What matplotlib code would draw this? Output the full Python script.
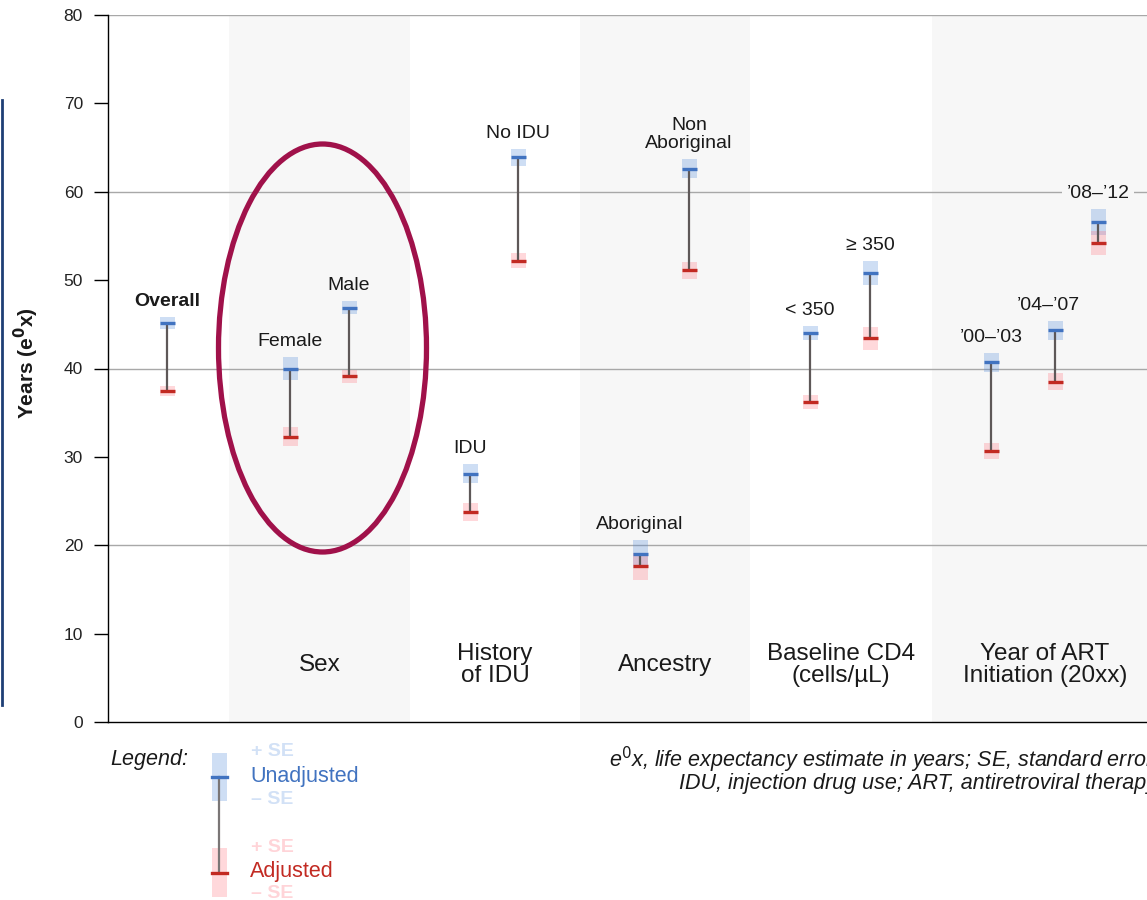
import matplotlib
matplotlib.use("Agg")
import matplotlib.pyplot as plt
from matplotlib.patches import Ellipse, Rectangle
from matplotlib.lines import Line2D

plt.rcParams['font.family'] = ['Liberation Sans', 'DejaVu Sans']

# ---------------- data ----------------
labels = ["Overall", "Female", "Male", "IDU", "No IDU", "Aboriginal", "Non\nAboriginal",
          "< 350", "≥ 350", "’00–’03", "’04–’07", "’08–’12"]
unadjusted = [45.15, 40.0, 46.9, 28.1, 63.9, 19.0, 62.6, 44.0, 50.8, 40.7, 44.3, 56.6]
unadjusted_se = [0.7, 1.35, 0.75, 1.05, 0.95, 1.6, 1.1, 0.8, 1.35, 1.05, 1.05, 1.45]
adjusted = [37.45, 32.3, 39.1, 23.8, 52.2, 17.6, 51.1, 36.2, 43.4, 30.7, 38.5, 54.2]
adjusted_se = [0.6, 1.1, 0.7, 1.0, 0.85, 1.5, 1.0, 0.75, 1.3, 0.9, 0.95, 1.4]
group_names = ["Sex", "History\nof IDU", "Ancestry", "Baseline CD4\n(cells/µL)",
               "Year of ART\nInitiation (20xx)"]
yticks = [0, 10, 20, 30, 40, 50, 60, 70, 80]

# ---------------- layout (pixel-like horizontal units) ----------------
x_pos = [167, 290, 349, 470, 518, 640, 689, 810, 870, 991, 1055, 1098]
group_spans = [(229, 410), (410, 580), (580, 750), (750, 932), (932, 1158)]
group_shaded = [True, False, True, False, True]
label_dx = [0, 0, 0, 0, 0, 0, 0, 0, 0, 0, -7, 0]

W, H = 1147, 900
fig = plt.figure(figsize=(W / 100, H / 100), dpi=100)
ax = fig.add_axes([108 / W, (H - 722) / H, (W - 108) / W, (722 - 15) / H])
ax.set_xlim(108, 1147)
ax.set_ylim(0, 80)

BLUE = '#4173c0'
RED = '#c22a22'
BLUE_BOX = (0.29, 0.52, 0.85, 0.27)
RED_BOX = (1.0, 0.45, 0.5, 0.28)
CONN = '#5e5858'
BAND = '#f7f7f7'

# shaded bands
for (a, b), s in zip(group_spans, group_shaded):
    if s:
        ax.axvspan(a, b, color=BAND, zorder=0.1, lw=0)

# gridlines
for g in [20, 40, 60, 80]:
    ax.axhline(g, color='#a8a8a8', lw=1.0, zorder=0.3)

# spines / ticks
for s in ['top', 'right']:
    ax.spines[s].set_visible(False)
ax.spines['left'].set_color('black')
ax.spines['bottom'].set_color('black')
ax.spines['left'].set_linewidth(1.0)
ax.spines['bottom'].set_linewidth(1.0)
ax.set_yticks(yticks)
ax.set_yticklabels([str(t) for t in yticks])
ax.tick_params(axis='y', direction='out', length=10, width=1, labelsize=12.5,
               pad=8, colors='black', labelcolor='#222222')
ax.set_xticks([])

bw = 15
# boxes
ax.bar(x_pos, [2 * s for s in unadjusted_se], width=bw,
       bottom=[v - s for v, s in zip(unadjusted, unadjusted_se)],
       color=BLUE_BOX, lw=0, zorder=2)
ax.bar(x_pos, [2 * s for s in adjusted_se], width=bw,
       bottom=[v - s for v, s in zip(adjusted, adjusted_se)],
       color=RED_BOX, lw=0, zorder=2)
# connectors
ax.vlines(x_pos, adjusted, unadjusted, color=CONN, lw=1.6, zorder=3)
# value lines
ax.hlines(unadjusted, [x - bw / 2 for x in x_pos], [x + bw / 2 for x in x_pos],
          color=BLUE, lw=2.4, zorder=4)
ax.hlines(adjusted, [x - bw / 2 for x in x_pos], [x + bw / 2 for x in x_pos],
          color=RED, lw=2.4, zorder=4)

# point labels
for i, (x, v, s, lab) in enumerate(zip(x_pos, unadjusted, unadjusted_se, labels)):
    kw = dict(ha='center', va='bottom', fontsize=14, color='#1a1a1a', zorder=5,
              linespacing=1.05)
    if lab == "Overall":
        kw['fontweight'] = 'bold'
    if i == len(labels) - 1:
        kw['bbox'] = dict(boxstyle='square,pad=0.25', fc=BAND, ec='none')
    ax.annotate(lab, (x, v + s), xytext=(label_dx[i] * 0.72, 5),
                textcoords='offset points', **kw)

# group labels
for (a, b), name in zip(group_spans, group_names):
    cx = (a + b) / 2
    if name.startswith("Year"):
        cx = 1045
    ax.text(cx, 6.5, name, ha='center', va='center', fontsize=17.5, color='#1a1a1a',
            linespacing=1.0, zorder=5)

# ---------------- overlay (figure pixel coordinates) ----------------
ov = fig.add_axes([0, 0, 1, 1], facecolor='none')
ov.set_xlim(0, W)
ov.set_ylim(H, 0)
ov.axis('off')

# y-axis title
ov.text(26, 363, r'Years (e$^{\mathbf{0}}$x)', rotation=90, ha='center', va='center',
        fontsize=15, fontweight='bold', color='#1a1a1a')

# highlight ellipse around Sex group
ov.add_patch(Ellipse((322.5, 348), 208, 408, fill=False, ec='#a0114a', lw=3.8, zorder=6))

# left edge dark line
ov.add_line(Line2D([2, 2], [100, 705], color='#1e3f75', lw=2))

# legend
ov.text(110, 760, "Legend:", fontsize=15.5, style='italic', ha='left', va='center',
        color='#1a1a1a')
ov.add_patch(Rectangle((211.5, 753), 15, 47.5, color=BLUE_BOX, lw=0))
ov.add_patch(Rectangle((211.5, 848), 15, 49, color=RED_BOX, lw=0))
ov.add_line(Line2D([219, 219], [777, 872], color='#7a7676', lw=1.6))
ov.add_line(Line2D([211.5, 226.5], [777, 777], color=BLUE, lw=2.4))
ov.add_line(Line2D([211.5, 226.5], [872.5, 872.5], color=RED, lw=2.4))
ov.text(251, 752, "+ SE", fontsize=14, fontweight='bold', color='#d2e1f6', va='center')
ov.text(250, 776.5, "Unadjusted", fontsize=15.5, color=BLUE, va='center')
ov.text(251, 800, "– SE", fontsize=14, fontweight='bold', color='#d2e1f6', va='center')
ov.text(251, 847, "+ SE", fontsize=14, fontweight='bold', color='#ffd4d8', va='center')
ov.text(250, 871.5, "Adjusted", fontsize=15.5, color=RED, va='center')
ov.text(251, 894, "– SE", fontsize=14, fontweight='bold', color='#ffd4d8', va='center')

# footnote (clipped on the right like the reference)
ov.text(1155, 760, r"e$^{\mathit{0}}$x, life expectancy estimate in years; SE, standard error",
        fontsize=15.5, style='italic', ha='right', va='center', color='#1a1a1a')
ov.text(1157, 784, "IDU, injection drug use; ART, antiretroviral therapy",
        fontsize=15.5, style='italic', ha='right', va='center', color='#1a1a1a')

fig.savefig("out.png", dpi=100)
